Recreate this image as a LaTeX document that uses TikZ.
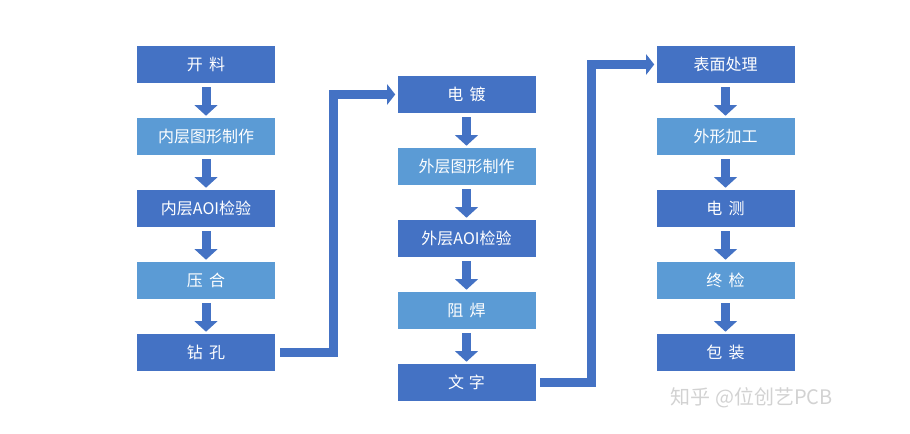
\documentclass[tikz,border=0pt]{standalone}
\usepackage{fontspec}
\setmainfont{Noto Sans CJK SC}
\usetikzlibrary{arrows.meta}
\definecolor{darkblue}{RGB}{68,114,196}
\definecolor{lightblue}{RGB}{91,155,213}
\tikzset{
  stepdark/.style={fill=darkblue, text=white, minimum width=103.5pt, minimum height=27.75pt, inner sep=0pt, font=\fontsize{12}{14}\selectfont},
  steplight/.style={stepdark, fill=lightblue},
  downarrow/.style={darkblue, line width=6.75pt, -{Triangle[width=17pt,length=8pt]}, shorten <=3pt, shorten >=1.5pt},
  jumparrow/.style={darkblue, line width=7pt, -{Triangle[width=15pt,length=6pt]}, shorten <=3.5pt, shorten >=1.5pt}
}
\begin{document}
\begin{tikzpicture}[x=0.75pt, y=-0.75pt]
      \useasboundingbox (0,0) rectangle (910,434);
      % inner layers
      \node[stepdark]  (kl)   at (206,64.5)  {开\hspace{0.4em}料};
      \node[steplight] (ncxt) at (206,136.5) {内层图形制作};
      \node[stepdark]  (naoi) at (206,208.5) {内层AOI检验};
      \node[steplight] (yh)   at (206,280.5) {压\hspace{0.4em}合};
      \node[stepdark]  (zk)   at (206,352.5) {钻\hspace{0.4em}孔};
      % outer layers
      \node[stepdark]  (dd)   at (466.5,94.5)  {电\hspace{0.4em}镀};
      \node[steplight] (wcxt) at (466.5,166.5) {外层图形制作};
      \node[stepdark]  (waoi) at (466.5,238.5) {外层AOI检验};
      \node[steplight] (zh)   at (466.5,310.5) {阻\hspace{0.4em}焊};
      \node[stepdark]  (wz)   at (466.5,382.5) {文\hspace{0.3em}字};
      % finishing
      \node[stepdark]  (bm)   at (725.5,64.5)  {表面处理};
      \node[steplight] (wx)   at (725.5,136.5) {外形加工};
      \node[stepdark]  (dc)   at (725.5,208.5) {电\hspace{0.4em}测};
      \node[steplight] (zj)   at (725.5,280.5) {终\hspace{0.4em}检};
      \node[stepdark]  (bz)   at (725.5,352.5) {包\hspace{0.4em}装};
      \draw[downarrow] (kl) -- (ncxt);
      \draw[downarrow] (ncxt) -- (naoi);
      \draw[downarrow] (naoi) -- (yh);
      \draw[downarrow] (yh) -- (zk);
      \draw[downarrow] (dd) -- (wcxt);
      \draw[downarrow] (wcxt) -- (waoi);
      \draw[downarrow] (waoi) -- (zh);
      \draw[downarrow] (zh) -- (wz);
      \draw[downarrow] (bm) -- (wx);
      \draw[downarrow] (wx) -- (dc);
      \draw[downarrow] (dc) -- (zj);
      \draw[downarrow] (zj) -- (bz);
      \draw[jumparrow] (zk.east) -- ++(58,0) |- (dd.west);
      \draw[jumparrow] (wz.east) -- ++(56,0) |- (bm.west);
      \node[text=gray!35, font=\fontsize{15}{17}\selectfont, anchor=west] (wm) at (666,398) {知乎 @位创艺PCB};
    \end{tikzpicture}
\end{document}
